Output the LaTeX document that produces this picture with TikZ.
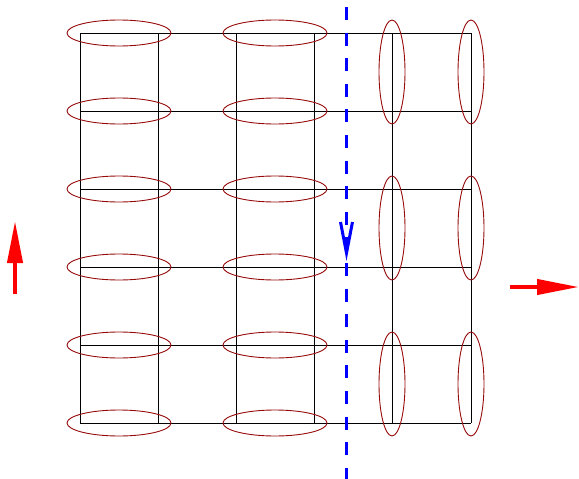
\documentclass[tikz,border=0pt]{standalone}
\usetikzlibrary{arrows.meta}
\definecolor{ellred}{RGB}{150,10,10}
\definecolor{flowblue}{RGB}{0,0,255}
\definecolor{arrred}{RGB}{255,0,0}
\tikzset{
  gridline/.style={black, line width=0.8pt},
  hell/.style={ellred, line width=0.9pt},
  cutline/.style={flowblue, line width=3.8pt, dash pattern=on 13pt off 12.6pt, dash phase=0pt},
  cuthead/.style={flowblue, line width=3pt, line join=miter},
  bigarrow/.style={arrred, line width=4pt, -{Triangle[length=42pt,width=15pt]}}
}
\begin{document}
\begin{tikzpicture}[x=1pt,y=-1pt]
\useasboundingbox (0,0) rectangle (579,479);
% grid
\foreach \x in {80,158,236,314,392,471}
  \draw[gridline] (\x,33) -- (\x,423);
\foreach \y in {33,111,189,267,345,423}
  \draw[gridline] (80,\y) -- (471,\y);
% horizontal ellipses
\foreach \y in {33,111,189,267,345,423}{
  \draw[hell] (119,\y) ellipse [x radius=52, y radius=13];
  \draw[hell] (275,\y) ellipse [x radius=52, y radius=13];
}
% vertical ellipses
\foreach \y in {72,228,384}{
  \draw[hell] (392,\y) ellipse [x radius=13, y radius=52];
  \draw[hell] (471,\y) ellipse [x radius=13, y radius=52];
}
% blue dashed cut line
\coordinate (ctop) at (346.5,7);
\coordinate (cbot) at (346.5,479);
\draw[cutline] (ctop) -- (cbot);
\coordinate (chl) at (340.5,222);
\coordinate (chtip) at (346.5,253);
\coordinate (chr) at (352.5,222);
\draw[cuthead] (chl) -- (chtip) -- (chr);
% red arrows
\coordinate (la) at (15,294);
\coordinate (lb) at (15,221);
\draw[bigarrow] (la) -- (lb);
\coordinate (ra) at (510,287);
\coordinate (rb) at (579,287);
\draw[bigarrow] (ra) -- (rb);
\end{tikzpicture}
\end{document}
